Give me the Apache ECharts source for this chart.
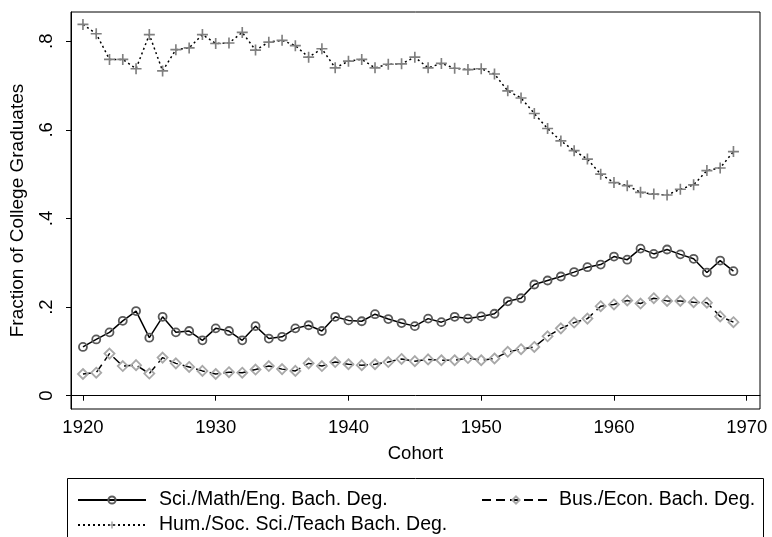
<!DOCTYPE html>
<html>
<head>
<meta charset="utf-8">
<script src="https://cdn.jsdelivr.net/npm/echarts@6/dist/echarts.min.js"></script>
<style>
  html, body { margin: 0; padding: 0; background: #fff; }
  #chart { width: 772px; height: 537px; }
</style>
</head>
<body>
<div id="chart"></div>
<script>
// cohorts 1920..1969
var years = [
  1920, 1921, 1922, 1923, 1924, 1925, 1926, 1927, 1928, 1929,
  1930, 1931, 1932, 1933, 1934, 1935, 1936, 1937, 1938, 1939,
  1940, 1941, 1942, 1943, 1944, 1945, 1946, 1947, 1948, 1949,
  1950, 1951, 1952, 1953, 1954, 1955, 1956, 1957, 1958, 1959,
  1960, 1961, 1962, 1963, 1964, 1965, 1966, 1967, 1968, 1969
];

var sciMath = [
  0.110, 0.127, 0.143, 0.169, 0.191, 0.131, 0.178, 0.143, 0.146, 0.125,
  0.152, 0.146, 0.125, 0.157, 0.129, 0.133, 0.152, 0.159, 0.146, 0.178,
  0.170, 0.168, 0.184, 0.173, 0.164, 0.157, 0.174, 0.166, 0.178, 0.174,
  0.179, 0.185, 0.213, 0.220, 0.251, 0.260, 0.269, 0.279, 0.290, 0.296,
  0.314, 0.307, 0.332, 0.320, 0.330, 0.319, 0.309, 0.278, 0.305, 0.281
];

var busEcon = [
  0.049, 0.052, 0.095, 0.067, 0.069, 0.050, 0.086, 0.073, 0.065, 0.056,
  0.049, 0.053, 0.052, 0.059, 0.067, 0.060, 0.056, 0.073, 0.067, 0.076,
  0.071, 0.069, 0.071, 0.076, 0.083, 0.078, 0.082, 0.080, 0.080, 0.085,
  0.080, 0.084, 0.099, 0.105, 0.110, 0.134, 0.152, 0.165, 0.174, 0.202,
  0.206, 0.215, 0.208, 0.220, 0.214, 0.214, 0.211, 0.210, 0.179, 0.166
];

var humSoc = [
  0.838, 0.817, 0.759, 0.759, 0.738, 0.815, 0.733, 0.781, 0.785, 0.815,
  0.795, 0.796, 0.820, 0.780, 0.798, 0.802, 0.790, 0.764, 0.783, 0.740,
  0.755, 0.759, 0.740, 0.748, 0.749, 0.764, 0.740, 0.750, 0.739, 0.736,
  0.738, 0.726, 0.688, 0.672, 0.637, 0.603, 0.575, 0.553, 0.534, 0.500,
  0.481, 0.474, 0.459, 0.455, 0.453, 0.466, 0.476, 0.508, 0.514, 0.551
];

var xTicks = [1920, 1930, 1940, 1950, 1960, 1970];
var yTicks = [0, 0.2, 0.4, 0.6, 0.8];

var names = [
  'Sci./Math/Eng. Bach. Deg.',
  'Bus./Econ. Bach. Deg.',
  'Hum./Soc. Sci./Teach Bach. Deg.'
];

function pairs(vals) {
  var out = [];
  for (var i = 0; i < years.length; i++) out.push([years[i], vals[i]]);
  return out;
}

var FONT = '"Liberation Sans", Arial, sans-serif';
var plusPath = 'path://M8.5,0H11.5V8.5H20V11.5H11.5V20H8.5V11.5H0V8.5H8.5Z';

var chart = echarts.init(document.getElementById('chart'), null, {renderer: 'canvas'});

function legendAt(name, left, top, pad) {
  return {
    data: [name],
    left: left,
    top: top,
    orient: 'horizontal',
    itemWidth: 68,
    itemHeight: 9,
    textStyle: {fontFamily: FONT, fontSize: 19.5, color: '#000', padding: [0, 0, 0, pad]},
    selectedMode: false
  };
}

chart.setOption({
  backgroundColor: '#fff',
  animation: false,
  textStyle: {fontFamily: FONT},
  grid: {
    left: 62, right: 12, top: 12, bottom: 128,
    show: true, borderColor: '#000', borderWidth: 1
  },
  xAxis: {
    type: 'value',
    min: 1919.1,
    max: 1971,
    name: 'Cohort',
    nameLocation: 'middle',
    nameGap: 35,
    nameTextStyle: {fontFamily: FONT, fontSize: 18.5, color: '#000'},
    axisLine: {show: true, lineStyle: {color: '#000'}},
    axisTick: {show: true, length: 5, customValues: xTicks, lineStyle: {color: '#000'}},
    axisLabel: {
      customValues: xTicks, fontSize: 18.5, color: '#000', margin: 9, fontFamily: FONT,
      formatter: function (v) { return String(v); }
    },
    splitLine: {show: false}
  },
  yAxis: {
    type: 'value',
    min: -0.03,
    max: 0.866,
    name: 'Fraction of College Graduates',
    nameLocation: 'middle',
    nameGap: 44,
    nameTextStyle: {fontFamily: FONT, fontSize: 19, color: '#000'},
    axisLine: {show: true, lineStyle: {color: '#000'}},
    axisTick: {show: true, length: 5, customValues: yTicks, lineStyle: {color: '#000'}},
    axisLabel: {
      customValues: yTicks,
      rotate: 90,
      fontSize: 18.5,
      color: '#000',
      margin: 15,
      fontFamily: FONT,
      formatter: function (v) {
        if (Math.abs(v) < 1e-9) return '0';
        return String(Math.round(v * 10) / 10).replace('0.', '.');
      }
    },
    splitLine: {show: false}
  },
  legend: [
    legendAt(names[0], 72, 485, 8),
    legendAt(names[1], 476, 485, 4),
    legendAt(names[2], 72, 510, 8)
  ],
  graphic: [{
    type: 'rect',
    shape: {x: 67.5, y: 478.5, width: 696, height: 80},
    style: {fill: 'none', stroke: '#000', lineWidth: 1},
    silent: true
  }],
  series: [
    {
      name: names[0],
      type: 'line',
      data: pairs(sciMath),
      symbol: 'circle',
      symbolSize: 8,
      showAllSymbol: true,
      lineStyle: {color: '#000', width: 1.5, type: 'solid'},
      itemStyle: {color: 'rgba(255,255,255,0)', borderColor: '#5a5a5a', borderWidth: 1.8}
    },
    {
      name: names[1],
      type: 'line',
      data: pairs(busEcon),
      symbol: 'diamond',
      symbolSize: 10,
      showAllSymbol: true,
      lineStyle: {color: '#000', width: 1.5, type: [9, 5]},
      itemStyle: {color: 'rgba(255,255,255,0)', borderColor: '#a8a8a8', borderWidth: 1.8}
    },
    {
      name: names[2],
      type: 'line',
      data: pairs(humSoc),
      symbol: plusPath,
      symbolSize: 11,
      showAllSymbol: true,
      lineStyle: {color: '#000', width: 1.5, type: [2, 3]},
      itemStyle: {color: '#808080'}
    }
  ]
});
</script>
</body>
</html>
